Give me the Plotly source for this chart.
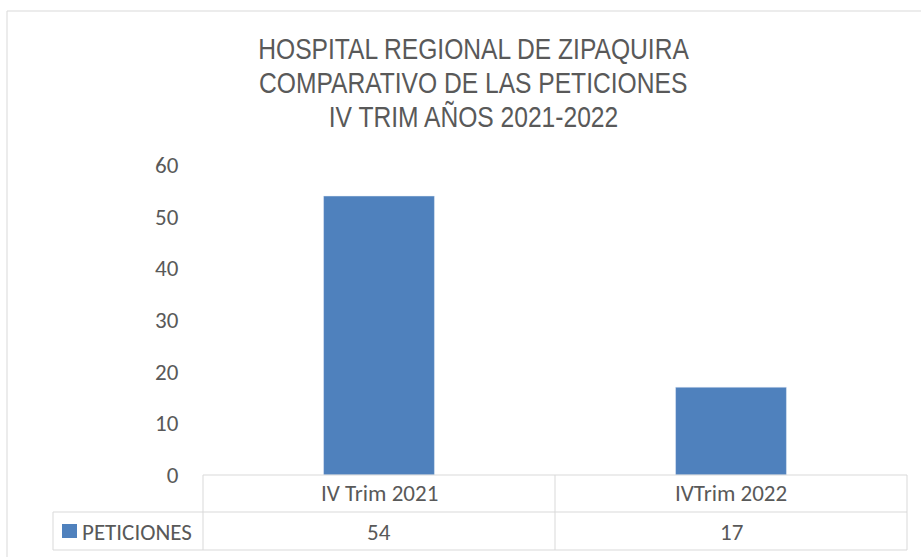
import json
import plotly.graph_objects as go

categories = ["IV Trim 2021", "IVTrim 2022"]
series_name = "PETICIONES"
values = [54, 17]
y_ticks = [0, 10, 20, 30, 40, 50, 60]
title_lines = ["HOSPITAL REGIONAL DE ZIPAQUIRA", "COMPARATIVO DE LAS PETICIONES", "IV TRIM AÑOS 2021-2022"]

W, H = 921, 557
L, R, T, B = 203, 907, 165, 475  # plot area in pixels
BAR = "#4F81BD"
TXT = "#595959"
GRID = "#D9D9D9"
TICKFONT = "Carlito, Calibri, 'Open Sans', 'Noto Sans', sans-serif"
TITLEFONT = "'Liberation Sans', Arial, sans-serif"


def px(x):
    return (x - L) / (R - L)


def py(y):
    return (B - y) / (B - T)


fig = go.Figure()
fig.add_trace(go.Bar(x=categories, y=values, name=series_name, marker_color=BAR,
                     width=0.315, showlegend=False, hoverinfo="skip"))

shapes = []


def line(x0, y0, x1, y1, color=GRID, width=1):
    shapes.append(dict(type="line", xref="paper", yref="paper",
                       x0=px(x0), y0=py(y0), x1=px(x1), y1=py(y1),
                       line=dict(color=color, width=width)))


# outer chart border
line(7, 11, 930, 11)
line(7, 11, 7, 570)
# data table
r0, r1, r2 = 475, 512, 550
mid = (L + R) / 2
line(L, r0, R, r0)
line(53, r1, R, r1)
line(53, r2, R, r2)
line(L, r0, L, r2)
line(mid, r0, mid, r2)
line(R, r0, R, r2)
line(53, r1, 53, r2)
# legend key
shapes.append(dict(type="rect", xref="paper", yref="paper",
                   x0=px(62), x1=px(77), y0=py(538), y1=py(524),
                   fillcolor=BAR, line=dict(width=0)))

annotations = []
for i, t in enumerate(title_lines):
    annotations.append(dict(text=t, xref="paper", yref="paper", x=px(473), y=py(49 + 33.5 * i),
                            showarrow=False, xanchor="center", yanchor="middle",
                            font=dict(family=TITLEFONT, size=30, color=TXT)))
for c, v in zip(categories, values):
    annotations.append(dict(text=c, xref="x", yref="paper", x=c, y=py(493),
                            showarrow=False, xanchor="center", yanchor="middle",
                            font=dict(family=TICKFONT, size=23, color=TXT)))
    annotations.append(dict(text=str(v), xref="x", yref="paper", x=c, y=py(532),
                            showarrow=False, xanchor="center", yanchor="middle",
                            font=dict(family=TICKFONT, size=23, color=TXT)))
annotations.append(dict(text=series_name, xref="paper", yref="paper", x=px(80), y=py(532),
                        showarrow=False, xanchor="left", yanchor="middle",
                        font=dict(family=TICKFONT, size=23, color=TXT)))

fig.update_layout(
    width=W, height=H,
    margin=dict(l=L, r=W - R, t=T, b=H - B, pad=0),
    paper_bgcolor="white", plot_bgcolor="white",
    shapes=shapes, annotations=annotations,
    xaxis=dict(range=[-0.5, 1.5], showticklabels=False, showgrid=False, zeroline=False,
               showline=False, ticks=""),
    yaxis=dict(range=[0, 60], tickvals=y_ticks, showgrid=False, zeroline=False,
               showline=False, ticks="outside", ticklen=19, tickcolor="rgba(0,0,0,0)",
               tickfont=dict(family=TICKFONT, size=23, color=TXT)),
)

post = """
document.body.style.margin = '0';
document.body.style.overflow = 'hidden';
var titles = %s;
var gd = document.getElementById('{plot_id}');
gd.querySelectorAll('text.annotation-text').forEach(function (t) {
  if (titles.indexOf(t.textContent) >= 0) {
    var w = t.getComputedTextLength();
    t.setAttribute('textLength', (w * 0.82).toFixed(1));
    t.setAttribute('lengthAdjust', 'spacingAndGlyphs');
  }
});
""" % json.dumps(title_lines)

fig.write_html("out.html", post_script=post, config={"displayModeBar": False})
